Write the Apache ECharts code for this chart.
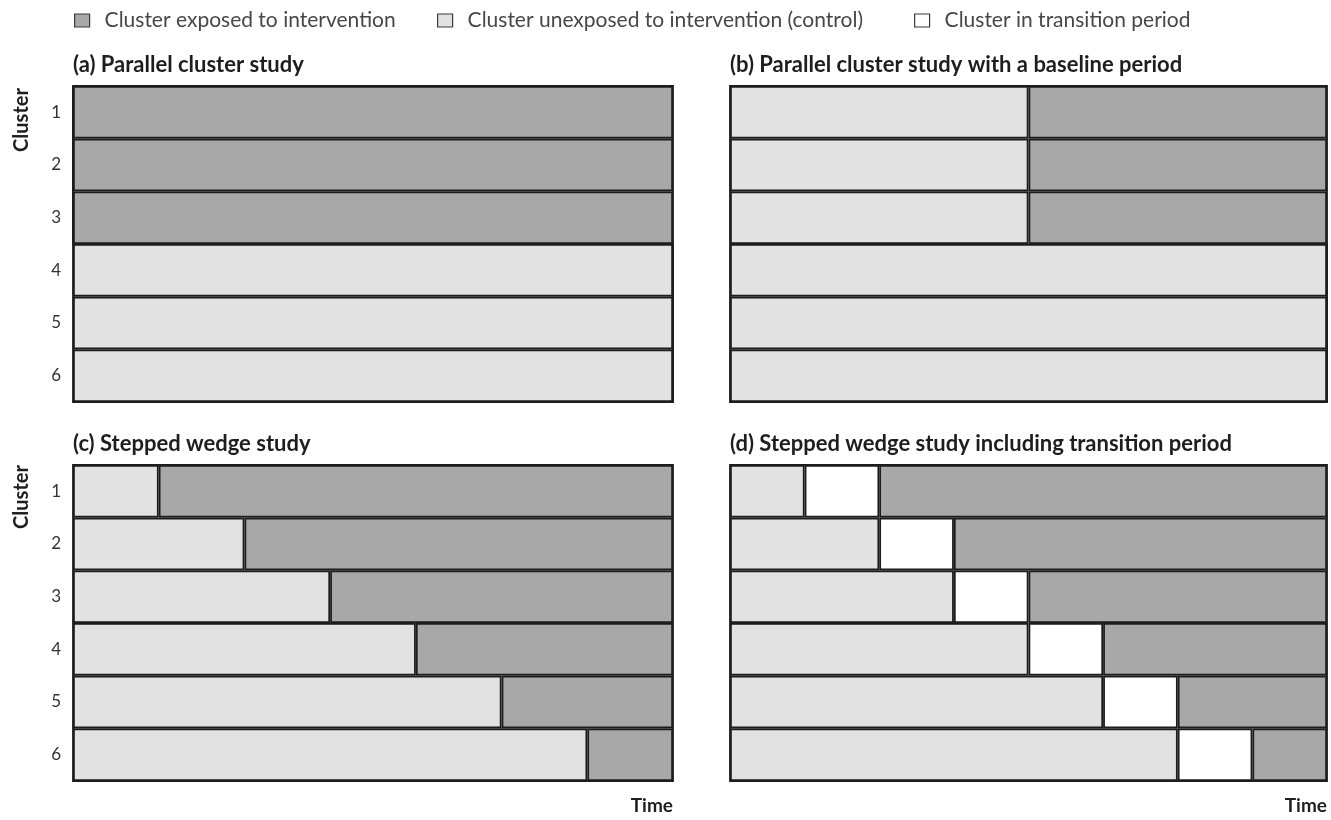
<!DOCTYPE html>
<html>
<head>
<meta charset="utf-8">
<title>Cluster randomised trial designs</title>
<script src="https://cdn.jsdelivr.net/npm/echarts@6/dist/echarts.min.js"></script>
<style>
  html, body { margin: 0; padding: 0; background: #ffffff; }
  #chart { width: 1331px; height: 820px; }
</style>
</head>
<body>
<div id="chart"></div>
<script>
// Cluster labels (rows of each panel)
const clusters = ['1', '2', '3', '4', '5', '6'];

// Status names used in the legend and the series
const statusNames = [
  'Cluster exposed to intervention',
  'Cluster unexposed to intervention (control)',
  'Cluster in transition period'
];

const panelTitles = [
  '(a) Parallel cluster study',
  '(b) Parallel cluster study with a baseline period',
  '(c) Stepped wedge study',
  '(d) Stepped wedge study including transition period'
];

// Number of time periods in each design
const periods = [1, 2, 7, 8];

// Time periods spent in each status, per cluster (in row order 1..6)
const aControl = [0, 0, 0, 1, 1, 1];
const aExposed = [1, 1, 1, 0, 0, 0];

const bControl = [1, 1, 1, 2, 2, 2];
const bExposed = [1, 1, 1, 0, 0, 0];

const cControl = [1, 2, 3, 4, 5, 6];
const cExposed = [6, 5, 4, 3, 2, 1];

const dControl = [1, 2, 3, 4, 5, 6];
const dTransition = [1, 1, 1, 1, 1, 1];
const dExposed = [6, 5, 4, 3, 2, 1];

const FONT = "'Lato', 'Noto Sans', sans-serif";
const COLORS = {
  exposed: '#a8a8a8',
  control: '#e2e2e2',
  transition: '#ffffff',
  border: '#1c1c1c'
};

const grids = [
  { left: 73, top: 86, width: 600, height: 316 },
  { left: 730, top: 86, width: 597, height: 316 },
  { left: 73, top: 465, width: 600, height: 316 },
  { left: 730, top: 465, width: 597, height: 316 }
];

const panelData = [
  { control: aControl, exposed: aExposed },
  { control: bControl, exposed: bExposed },
  { control: cControl, exposed: cExposed },
  { control: dControl, transition: dTransition, exposed: dExposed }
];

function barSeries(name, data, color, gridIndex) {
  return {
    type: 'bar',
    name: name,
    xAxisIndex: gridIndex,
    yAxisIndex: gridIndex,
    stack: 'time' + gridIndex,
    data: data,
    barCategoryGap: 0,
    barWidth: '100%',
    silent: true,
    itemStyle: { color: color, borderColor: COLORS.border, borderWidth: 1.8 }
  };
}

const series = [];
panelData.forEach(function (p, i) {
  series.push(barSeries(statusNames[1], p.control, COLORS.control, i));
  if (p.transition) series.push(barSeries(statusNames[2], p.transition, COLORS.transition, i));
  series.push(barSeries(statusNames[0], p.exposed, COLORS.exposed, i));
});

// One legend block per status so each entry sits at its own spot
const legendColors = [COLORS.exposed, COLORS.control, COLORS.transition];
const legendLeft = [74, 437, 914];
const legends = statusNames.map(function (n, i) {
  return {
    left: legendLeft[i],
    top: 10,
    padding: 0,
    itemWidth: 15,
    itemHeight: 13,
    icon: 'rect',
    selectedMode: false,
    data: [{ name: n, itemStyle: { color: legendColors[i], borderColor: '#3a3a3a', borderWidth: 1.2 } }],
    textStyle: { fontFamily: FONT, fontSize: 21, color: '#474747', padding: [0, 0, 0, 10] }
  };
});

const titles = panelTitles.map(function (t, i) {
  return {
    text: t,
    left: grids[i].left,
    top: grids[i].top - 32,
    padding: 0,
    textStyle: { fontFamily: FONT, fontSize: 22, fontWeight: 'bold', color: '#1e1e1e' }
  };
});

const sideText = { fontFamily: FONT, fontSize: 20, fontWeight: 'bold', fill: '#1e1e1e' };

const option = {
  backgroundColor: '#ffffff',
  animation: false,
  title: titles,
  legend: legends,
  grid: grids.map(function (g) {
    return Object.assign({ show: true, borderColor: COLORS.border, borderWidth: 1.8, backgroundColor: 'transparent' }, g);
  }),
  xAxis: grids.map(function (g, i) {
    return { type: 'value', gridIndex: i, min: 0, max: periods[i], show: false };
  }),
  yAxis: grids.map(function (g, i) {
    return {
      type: 'category',
      gridIndex: i,
      data: clusters,
      inverse: true,
      axisLine: { show: false },
      axisTick: { show: false },
      splitLine: { show: false },
      axisLabel: { show: i % 2 === 0, margin: 12, fontFamily: FONT, fontSize: 17, color: '#333' }
    };
  }),
  graphic: [
    { type: 'text', x: 12, y: 120, rotation: Math.PI / 2,
      style: Object.assign({ text: 'Cluster', align: 'center', verticalAlign: 'top' }, sideText) },
    { type: 'text', x: 12, y: 497, rotation: Math.PI / 2,
      style: Object.assign({ text: 'Cluster', align: 'center', verticalAlign: 'top' }, sideText) },
    { type: 'text', x: 673, y: 796,
      style: Object.assign({ text: 'Time', align: 'right', verticalAlign: 'top' }, sideText, { fontSize: 19 }) },
    { type: 'text', x: 1327, y: 796,
      style: Object.assign({ text: 'Time', align: 'right', verticalAlign: 'top' }, sideText, { fontSize: 19 }) }
  ],
  series: series
};

const chart = echarts.init(document.getElementById('chart'), null, { renderer: 'canvas' });
chart.setOption(option);
</script>
</body>
</html>
